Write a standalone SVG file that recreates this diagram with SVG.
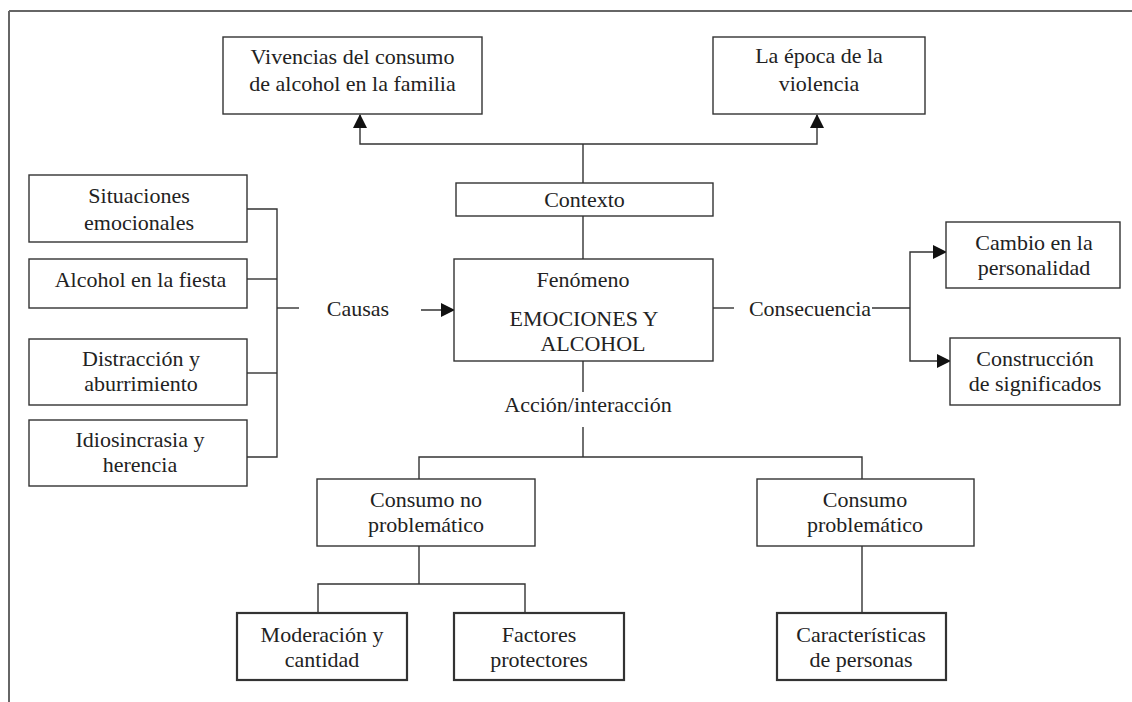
<svg xmlns="http://www.w3.org/2000/svg" width="1132" height="702" viewBox="0 0 1132 702">
<style>
  text { font-family: "Liberation Serif", "Times New Roman", serif; font-size: 22px; fill: #222; text-anchor: middle; }
  .box { fill: #fff; stroke: #333; stroke-width: 1.4; }
  .thick { stroke-width: 2.2; }
  .ln { fill: none; stroke: #333; stroke-width: 1.4; }
  .arr { marker-end: url(#ah); }
</style>
<defs>
  <marker id="ah" markerUnits="userSpaceOnUse" markerWidth="14" markerHeight="14" refX="13" refY="7" orient="auto">
    <path d="M0,0 L14,7 L0,14 z" fill="#111"/>
  </marker>
</defs>
<rect width="1132" height="702" fill="#fff"/>
<g id="frame">
  <line x1="9" y1="11" x2="1132" y2="11" stroke="#333" stroke-width="1.6"/>
  <line x1="9" y1="11" x2="9" y2="702" stroke="#666" stroke-width="2"/>
</g>
<g id="connectors">
  <line class="ln" x1="583" y1="183" x2="583" y2="144"/>
  <polyline class="ln arr" points="583,144 360,144 360,115"/>
  <polyline class="ln arr" points="583,144 817,144 817,115"/>
  <line class="ln" x1="583" y1="216" x2="583" y2="259"/>
  <polyline class="ln" points="247,209 277,209 277,457 247,457"/>
  <line class="ln" x1="247" y1="279" x2="277" y2="279"/>
  <line class="ln" x1="247" y1="373" x2="277" y2="373"/>
  <line class="ln" x1="277" y1="308" x2="299" y2="308"/>
  <line class="ln arr" x1="421" y1="310" x2="454" y2="310"/>
  <line class="ln" x1="713" y1="308" x2="734" y2="308"/>
  <line class="ln" x1="872" y1="308" x2="910" y2="308"/>
  <polyline class="ln arr" points="910,308 910,252 946,252"/>
  <polyline class="ln arr" points="910,308 910,361 950,361"/>
  <line class="ln" x1="583" y1="361" x2="583" y2="392"/>
  <line class="ln" x1="583" y1="427" x2="583" y2="457"/>
  <polyline class="ln" points="419,479 419,457 862,457 862,479"/>
  <line class="ln" x1="419" y1="546" x2="419" y2="584"/>
  <polyline class="ln" points="318,613 318,584 525,584 525,613"/>
  <line class="ln" x1="862" y1="546" x2="862" y2="613"/>
  <text x="358" y="316">Causas</text>
  <text x="810" y="316">Consecuencia</text>
  <text x="588" y="412">Acción/interacción</text>
</g>
<g id="vivencias">
  <rect class="box" x="223" y="37" width="259" height="77"/>
  <text x="352.5" y="64">Vivencias del consumo</text>
  <text x="352.5" y="91">de alcohol en la familia</text>
</g>
<g id="epoca">
  <rect class="box" x="713" y="37" width="212" height="77"/>
  <text x="819" y="63">La época de la</text>
  <text x="819" y="91">violencia</text>
</g>
<g id="contexto">
  <rect class="box" x="456" y="183" width="257" height="33"/>
  <text x="584.5" y="207">Contexto</text>
</g>
<g id="fenomeno">
  <rect class="box" x="454" y="259" width="259" height="102"/>
  <text x="583" y="287">Fenómeno</text>
  <text x="584" y="326">EMOCIONES Y</text>
  <text x="593" y="351">ALCOHOL</text>
</g>
<g id="situaciones">
  <rect class="box" x="29" y="175" width="218" height="67"/>
  <text x="139" y="203">Situaciones</text>
  <text x="139" y="230">emocionales</text>
</g>
<g id="fiesta">
  <rect class="box" x="29" y="259" width="218" height="49"/>
  <text x="140.5" y="287">Alcohol en la fiesta</text>
</g>
<g id="distraccion">
  <rect class="box" x="29" y="339" width="218" height="66"/>
  <text x="141" y="365.5">Distracción y</text>
  <text x="141" y="390.5">aburrimiento</text>
</g>
<g id="idiosincrasia">
  <rect class="box" x="29" y="420" width="218" height="66"/>
  <text x="140" y="447">Idiosincrasia y</text>
  <text x="140" y="472">herencia</text>
</g>
<g id="cambio">
  <rect class="box" x="946" y="222" width="174" height="66"/>
  <text x="1034" y="250">Cambio en la</text>
  <text x="1034" y="275">personalidad</text>
</g>
<g id="construccion">
  <rect class="box" x="950" y="338" width="170" height="67"/>
  <text x="1035" y="366">Construcción</text>
  <text x="1035" y="391">de significados</text>
</g>
<g id="consumo-no">
  <rect class="box" x="317" y="479" width="218" height="67"/>
  <text x="426" y="507">Consumo no</text>
  <text x="426" y="532">problemático</text>
</g>
<g id="consumo-prob">
  <rect class="box" x="757" y="479" width="217" height="67"/>
  <text x="865" y="507">Consumo</text>
  <text x="865" y="532">problemático</text>
</g>
<g id="moderacion">
  <rect class="box thick" x="237" y="613" width="170" height="67"/>
  <text x="322" y="642">Moderación y</text>
  <text x="322" y="667">cantidad</text>
</g>
<g id="factores">
  <rect class="box thick" x="454" y="613" width="170" height="67"/>
  <text x="539" y="642">Factores</text>
  <text x="539" y="667">protectores</text>
</g>
<g id="caracteristicas">
  <rect class="box thick" x="777" y="613" width="169" height="67"/>
  <text x="861" y="642">Características</text>
  <text x="861" y="667">de personas</text>
</g>
</svg>
